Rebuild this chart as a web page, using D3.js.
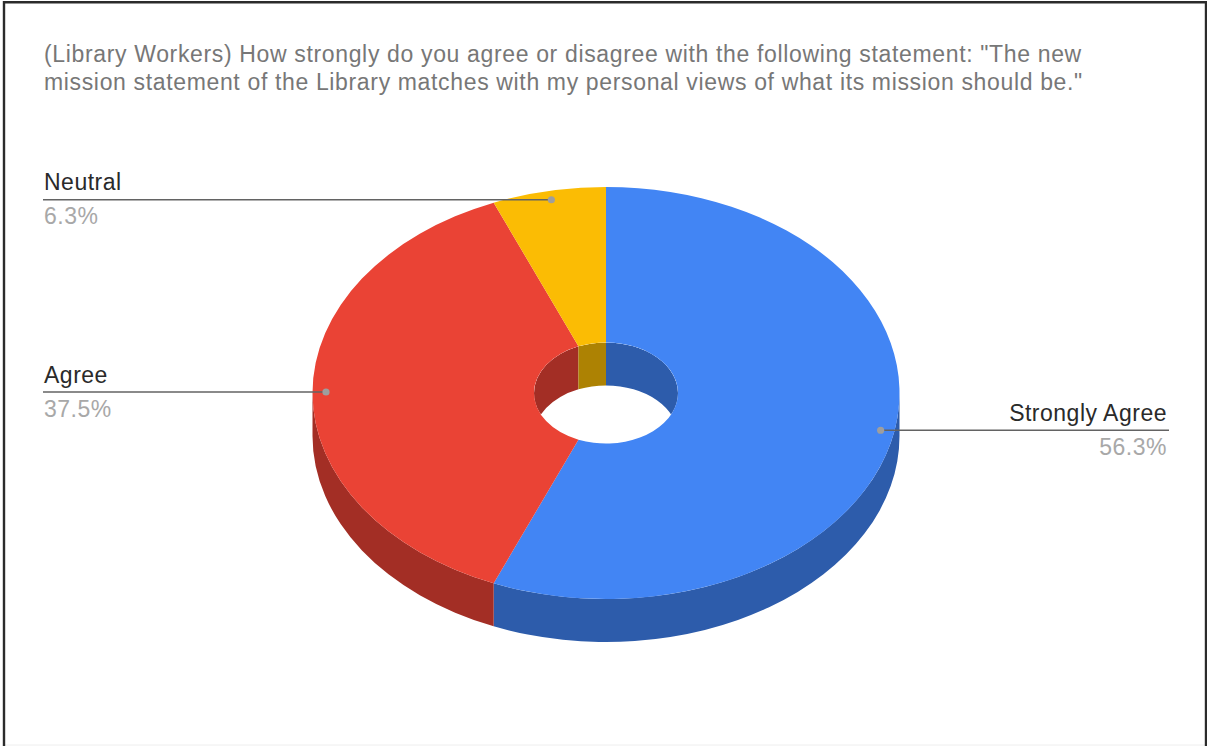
<!DOCTYPE html>
<html>
<head>
<meta charset="utf-8">
<title>Mission statement survey</title>
<script src="https://cdn.jsdelivr.net/npm/d3@7/dist/d3.min.js"></script>
<style>
  html, body { margin: 0; padding: 0; background: #fff; }
  svg { display: block; }
  text { font-family: "Liberation Sans", Arial, sans-serif; }
</style>
</head>
<body>
<svg id="chart" width="1207" height="746"></svg>
<script>
const titleLines = [
  '(Library Workers) How strongly do you agree or disagree with the following statement: "The new',
  'mission statement of the Library matches with my personal views of what its mission should be."'
];
const categories = ["Strongly Agree", "Agree", "Neutral"];
const shares = [56.25, 37.5, 6.25];
const shareLabels = ["56.3%", "37.5%", "6.3%"];
const topColors = ["#4285f4", "#ea4335", "#fbbc04"];
const wallColors = ["#2d5cab", "#a32e25", "#ad8203"];

const svg = d3.select("#chart");
const W = 1207, H = 746;

// Window frame: dark on three sides, a faint hairline along the bottom
svg.append("path")
  .attr("d", `M5,${H - 1} H${W - 2}`)
  .attr("fill", "none").attr("stroke", "#eeeeee").attr("stroke-width", 1);
svg.append("path")
  .attr("d", `M4,${H} V2.2 H${W - 1} V${H}`)
  .attr("fill", "none").attr("stroke", "#2b2b2b").attr("stroke-width", 2.4);

// Title
svg.append("g").selectAll("text").data(titleLines).join("text")
  .attr("x", 44).attr("y", (d, i) => 62 + i * 28)
  .attr("fill", "#777777").attr("font-size", 23).attr("letter-spacing", 0.65)
  .text(d => d);

// Tilted pie geometry: the disc is an ellipse, the rim hangs below it
const cx = 606, cy = 393, rx = 293.5, ry = 206, depth = 43, holeR = 72;
const tilt = ry / rx, drop = depth / tilt;

const slices = d3.pie().sort(null).value(d => d)(shares);
const arc = d3.arc().innerRadius(holeR).outerRadius(rx);

const disc = svg.append("g").attr("transform", `translate(${cx},${cy}) scale(1,${tilt})`);

// Band swept straight down from a circular arc; angles measured clockwise from 12 o'clock
function sweep(r, a0, a1) {
  const p = d3.path();
  const s = a0 - Math.PI / 2, e = a1 - Math.PI / 2;
  p.arc(0, 0, r, s, e, false);
  p.arc(0, drop, r, e, s, true);
  p.closePath();
  return p.toString();
}
const clampAngles = (d, lo, hi) => [Math.max(d.startAngle, lo), Math.min(d.endAngle, hi)];
const TAU = Math.PI * 2;

// Outer rim: only the front half of the circle shows
disc.append("g").selectAll("path").data(slices).join("path")
  .attr("fill", (d, i) => wallColors[i])
  .attr("d", d => {
    const [a, b] = clampAngles(d, TAU / 4, TAU * 3 / 4);
    return a < b ? sweep(rx, a, b) : null;
  });

// Inner wall of the hole: only the back half shows, held inside the hole
const defs = svg.append("defs");
defs.append("clipPath").attr("id", "hole")
  .append("circle").attr("r", holeR);

const wall = disc.append("g").attr("clip-path", "url(#hole)");
wall.selectAll("path.back").data(slices).join("path")
  .attr("class", "back")
  .attr("fill", (d, i) => wallColors[i])
  .attr("d", d => {
    const parts = [];
    const [a, b] = clampAngles(d, 0, TAU / 4);
    if (a < b) parts.push(sweep(holeR, a, b));
    const [c, e] = clampAngles(d, TAU * 3 / 4, TAU);
    if (c < e) parts.push(sweep(holeR, c, e));
    return parts.join("") || null;
  });

// Top face
disc.append("g").selectAll("path").data(slices).join("path")
  .attr("d", arc)
  .attr("fill", (d, i) => topColors[i]);

// Callouts: a leader from a dot on each slice's mid-angle, label above, share below
const dotRx = 280, dotRy = 196, dotCy = cy - 1;
const anchor = d => {
  const a = (d.startAngle + d.endAngle) / 2;
  return [cx + dotRx * Math.sin(a), dotCy - dotRy * Math.cos(a)];
};
const leaderEnd = [1169, 43, 43];
const textX = [1167, 44, 44];
const textAnchor = ["end", "start", "start"];

const callouts = svg.append("g").selectAll("g").data(slices).join("g");
callouts.append("line")
  .attr("x1", d => anchor(d)[0]).attr("y1", d => anchor(d)[1])
  .attr("x2", (d, i) => leaderEnd[i]).attr("y2", d => anchor(d)[1])
  .attr("stroke", "#636363").attr("stroke-width", 1.3);
callouts.append("circle")
  .attr("cx", d => anchor(d)[0]).attr("cy", d => anchor(d)[1]).attr("r", 3.6)
  .attr("fill", "#9e9e9e");
callouts.append("text")
  .attr("x", (d, i) => textX[i]).attr("y", d => anchor(d)[1] - 9.5)
  .attr("text-anchor", (d, i) => textAnchor[i])
  .attr("fill", "#2a2a2a").attr("font-size", 23).attr("letter-spacing", 0.5)
  .text((d, i) => categories[i]);
callouts.append("text")
  .attr("x", (d, i) => textX[i]).attr("y", d => anchor(d)[1] + 24.5)
  .attr("text-anchor", (d, i) => textAnchor[i])
  .attr("fill", "#a8a8a8").attr("font-size", 23).attr("letter-spacing", 0.5)
  .text((d, i) => shareLabels[i]);
</script>
</body>
</html>
